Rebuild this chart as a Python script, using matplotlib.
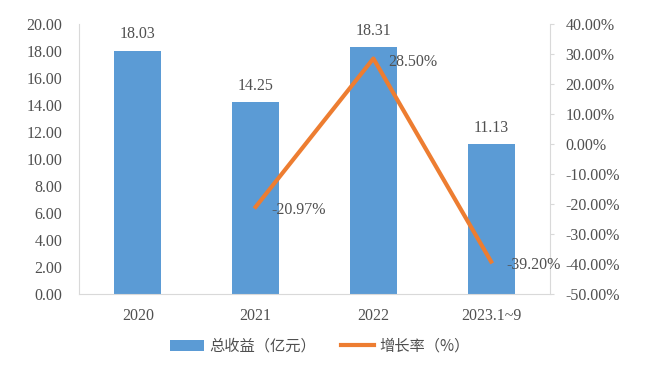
import matplotlib.pyplot as plt
import numpy as np

plt.rcParams['font.family'] = ['Liberation Serif', 'Noto Sans CJK SC', 'DejaVu Sans']

# 数据
years = ['2020', '2021', '2022', '2023.1~9']
revenue = [18.03, 14.25, 18.31, 11.13]        # 总收益（亿元）
growth = [None, -20.97, 28.50, -39.20]          # 增长率（%）

bar_color = '#5B9BD5'
line_color = '#ED7D31'
grid_gray = '#D9D9D9'
text_color = '#505050'

fig = plt.figure(figsize=(6.6, 3.68), dpi=100)
ax = fig.add_axes([79 / 660, 1 - 294 / 368, 471 / 660, 270 / 368])
x = np.arange(len(years))

bars = ax.bar(x, revenue, width=0.4, color=bar_color, label='总收益（亿元）', zorder=2)
for xi, v in zip(x, revenue):
    ax.text(xi, v + 0.6, f'{v:.2f}', ha='center', va='bottom', fontsize=11.5, color=text_color)

ax.set_xlim(-0.5, len(years) - 0.5)
ax.set_ylim(0, 20)
ax.set_yticks(np.arange(0, 20.1, 2))
ax.set_yticklabels([f'{v:.2f}' for v in np.arange(0, 20.1, 2)])
ax.set_xticks(x)
ax.set_xticklabels(years)
ax.tick_params(axis='both', length=0, labelsize=11.5, colors=text_color)
ax.tick_params(axis='y', pad=12)
ax.tick_params(axis='x', pad=10)
for s in ['top', 'right']:
    ax.spines[s].set_visible(False)
ax.spines['left'].set_color(grid_gray)
ax.spines['bottom'].set_color(grid_gray)

ax2 = ax.twinx()
gx = [xi for xi, g in zip(x, growth) if g is not None]
gy = [g for g in growth if g is not None]
line, = ax2.plot(gx, gy, color=line_color, linewidth=3, label='增长率（%）', zorder=3)
for xi, g in zip(gx, gy):
    ax2.text(xi + 0.13, g - 1.0, f'{g:.2f}%', ha='left', va='center', fontsize=11.5, color=text_color)
ax2.set_ylim(-50, 40)
ticks2 = np.arange(-50, 40.1, 10)
ax2.set_yticks(ticks2)
ax2.set_yticklabels([f'{v:.2f}%' for v in ticks2])
ax2.tick_params(axis='y', length=3, color=grid_gray, labelsize=11.5, colors=text_color, pad=8)
for s in ['top', 'left', 'bottom']:
    ax2.spines[s].set_visible(False)
ax2.spines['right'].set_color(grid_gray)

handles = [bars, line]
fig.legend(handles, [h.get_label() for h in handles], loc='center', bbox_to_anchor=(0.485, 1 - 346 / 368),
           ncol=2, frameon=False, handlelength=2.2, handletextpad=0.35, columnspacing=1.6,
           prop={'family': ['Noto Sans CJK SC'], 'size': 11}, labelcolor=text_color)

fig.savefig('out.png', dpi=100)
